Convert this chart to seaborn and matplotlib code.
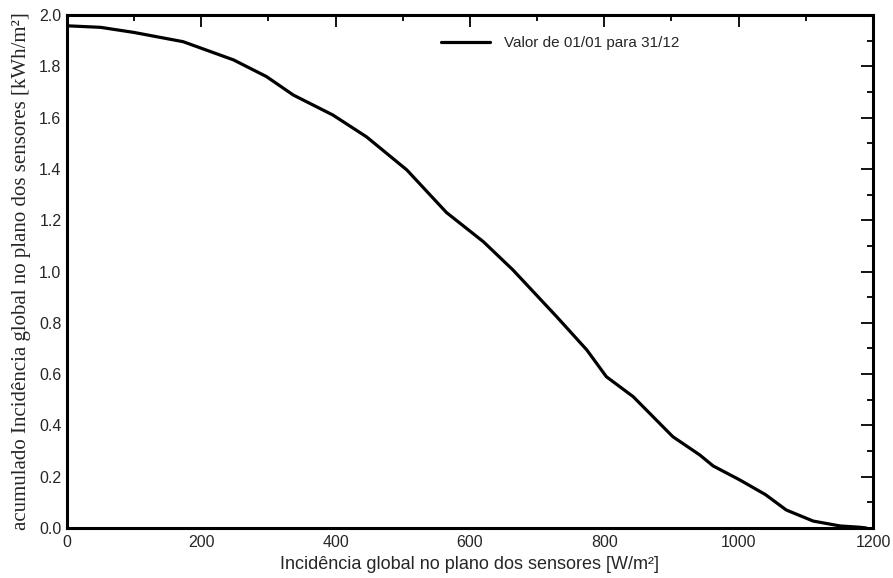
import matplotlib
matplotlib.use("Agg")
import matplotlib.pyplot as plt
import seaborn as sns
import pandas as pd
from matplotlib.ticker import MultipleLocator

# Curve (x in W/m², y in kWh/m²)
irradiance = [0, 50, 100, 173, 248, 297, 337, 396, 446, 506, 565, 620, 664,
              729, 774, 803, 843, 902, 942, 962, 1002, 1040, 1071, 1111,
              1151, 1180, 1190]
cumulative = [1.958, 1.952, 1.932, 1.896, 1.825, 1.76, 1.688, 1.61, 1.525,
              1.396, 1.23, 1.116, 1.006, 0.824, 0.694, 0.59, 0.512, 0.356,
              0.285, 0.242, 0.187, 0.13, 0.07, 0.027, 0.008, 0.003, 0.0]
series_label = "Valor de 01/01 para 31/12"

df = pd.DataFrame({"x": irradiance, "y": cumulative, "serie": series_label})

sns.set_theme(style="white")
plt.rcParams['font.family'] = ['Liberation Sans', 'DejaVu Sans']

fig = plt.figure(figsize=(8.93, 5.78), dpi=100)
ax = fig.add_axes([0.075, 0.0865, 0.9026, 0.8875])

sns.lineplot(data=df, x="x", y="y", hue="serie", palette=["black"],
             linewidth=2.3, ax=ax, legend=True)

ax.set_xlim(0, 1200)
ax.set_ylim(0, 2.0)
ax.xaxis.set_major_locator(MultipleLocator(200))
ax.xaxis.set_minor_locator(MultipleLocator(100))
ax.yaxis.set_major_locator(MultipleLocator(0.2))
ax.yaxis.set_minor_locator(MultipleLocator(0.1))
ax.yaxis.set_major_formatter(plt.FuncFormatter(lambda v, p: f"{v:.1f}"))

ax.tick_params(which="both", direction="in", top=True, right=True,
               color="black", labelsize=11.5, width=1.3)
ax.tick_params(which="major", length=8.5)
ax.tick_params(which="minor", length=4.3)
ax.tick_params(axis="x", pad=5)
ax.tick_params(axis="y", pad=4)

for s in ax.spines.values():
    s.set_color("black")
    s.set_linewidth(2.2)

ax.set_xlabel("Incidência global no plano dos sensores [W/m²]", fontsize=13,
              labelpad=4)
ax.set_ylabel("acumulado Incidência global no plano dos sensores [kWh/m²]",
              fontsize=15, family=['Liberation Serif', 'DejaVu Serif'],
              labelpad=6)

leg = ax.legend(loc="upper left", bbox_to_anchor=(0.447, 0.985), frameon=False,
                fontsize=11, handlelength=3.2, handletextpad=0.9)
for h in leg.get_lines():
    h.set_linewidth(2.3)

fig.savefig("out.png", dpi=100)
